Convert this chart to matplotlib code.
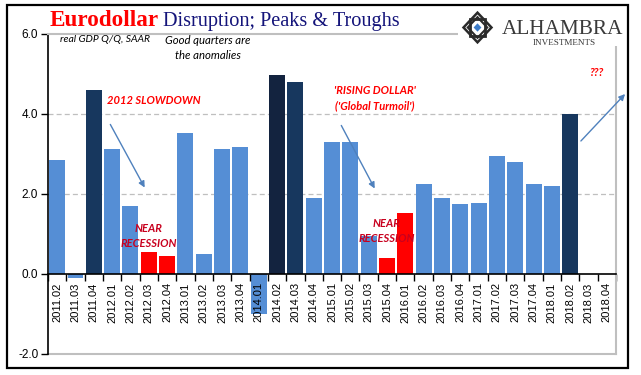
import numpy as np
import matplotlib
matplotlib.use('Agg')
import matplotlib.pyplot as plt
from matplotlib.patches import Rectangle, Polygon, FancyArrowPatch

# real GDP Q/Q SAAR
quarters = ['2011.02', '2011.03', '2011.04',
            '2012.01', '2012.02', '2012.03', '2012.04',
            '2013.01', '2013.02', '2013.03', '2013.04',
            '2014.01', '2014.02', '2014.03', '2014.04',
            '2015.01', '2015.02', '2015.03', '2015.04',
            '2016.01', '2016.02', '2016.03', '2016.04',
            '2017.01', '2017.02', '2017.03', '2017.04',
            '2018.01', '2018.02', '2018.03', '2018.04']
gdp = [2.86, -0.11, 4.60,
       3.13, 1.71, 0.54, 0.46,
       3.53, 0.49, 3.13, 3.18,
       -1.00, 4.97, 4.81, 1.89,
       3.29, 3.29, 0.95, 0.41,
       1.53, 2.26, 1.91, 1.76,
       1.78, 2.96, 2.79, 2.26,
       2.21, 3.99, np.nan, np.nan]
# L = normal quarter, D = good quarter, X = best, R = near recession
kind = ['L', 'L', 'D',
        'L', 'L', 'R', 'R',
        'L', 'L', 'L', 'L',
        'L', 'X', 'D', 'L',
        'L', 'L', 'L', 'R',
        'R', 'L', 'L', 'L',
        'L', 'L', 'L', 'L',
        'L', 'D', 'L', 'L']
colors = {'L': '#558ED5', 'D': '#17375E', 'X': '#13233F', 'R': '#FF0000'}

W, H = 641, 375


def fp(x, y):
    # pixel position (top-left origin) -> figure fraction
    return (x / W, 1 - y / H)


fig = plt.figure(figsize=(W / 100, H / 100), dpi=100)
ax = fig.add_axes([48 / W, 1 - 354 / H, 568 / W, 320 / H])

x = np.arange(len(quarters))
vals = np.array(gdp, dtype=float)
ok = ~np.isnan(vals)
ax.bar(x[ok], vals[ok], width=0.87, color=[colors[k] for k, o in zip(kind, ok) if o], zorder=1.2)

ax.set_xlim(-0.5, len(quarters) - 0.5)
ax.set_ylim(-2, 6)

for g in [2, 4]:
    ax.axhline(g, color='#BFBFBF', lw=0.9, ls=(0, (4, 2.5)), zorder=1)
ax.axhline(-2, color='#BFBFBF', lw=1.5, zorder=1, clip_on=False)

ax.spines['bottom'].set_position(('data', 0))
ax.spines['bottom'].set_color('black')
ax.spines['bottom'].set_linewidth(1.2)
ax.spines['bottom'].set_zorder(3)
ax.spines['left'].set_color('black')
ax.spines['left'].set_linewidth(1.2)
for s in ['top', 'right']:
    ax.spines[s].set_color('#BFBFBF')
    ax.spines[s].set_linewidth(1.5)

lab_font = ['Liberation Sans Narrow', 'Liberation Sans', 'DejaVu Sans']
ax.set_xticks(x)
ax.set_xticklabels(quarters, rotation=90, family=lab_font, fontsize=8)
ax.set_xticks(np.arange(-0.5, len(quarters), 1), minor=True)
ax.tick_params(axis='x', which='major', length=0, pad=6)
ax.tick_params(axis='x', which='minor', length=5, width=1, direction='out', color='black')

ax.set_yticks([-2, 0, 2, 4, 6])
ax.set_yticklabels(['%.1f' % v for v in [-2, 0, 2, 4, 6]], family=lab_font, fontsize=8.5)
ax.tick_params(axis='y', length=5, width=1, direction='out', pad=2)

# title
fig.text(*fp(50, 26), 'Eurodollar', color='#FF0000', fontsize=16.7, fontweight='bold',
         family='Liberation Serif', ha='left', va='baseline')
fig.text(*fp(163, 26), 'Disruption; Peaks & Troughs', color='#14147A', fontsize=14.6,
         family='Liberation Serif', ha='left', va='baseline')

# logo area
fig.add_artist(Rectangle(fp(458, 46), 169 / W, 40 / H, transform=fig.transFigure,
                         facecolor='white', edgecolor='none', zorder=1))
lg = fig.add_axes([461 / W, 1 - 45 / H, 33 / W, 35 / H])
lg.set_zorder(2)
lg.set_xlim(-1.05, 1.05)
lg.set_ylim(-1.05, 1.05)
lg.axis('off')
lg.add_patch(Polygon([(0, 1), (1, 0), (0, -1), (-1, 0)], closed=True, facecolor='#2A2A2A', edgecolor='none'))
lg.add_patch(Polygon([(0, 0.78), (0.78, 0), (0, -0.78), (-0.78, 0)], closed=True, facecolor='white', edgecolor='none'))
lg.add_patch(Rectangle((-0.5, -0.5), 1.0, 1.0, facecolor='none', edgecolor='#2A2A2A', lw=2))
lg.add_patch(Polygon([(0, 0.62), (0.62, 0), (0, -0.62), (-0.62, 0)], closed=True, facecolor='none', edgecolor='#2A2A2A', lw=1.5))
lg.add_patch(Polygon([(0, 0.25), (0.25, 0), (0, -0.25), (-0.25, 0)], closed=True, facecolor='#3D7CC9', edgecolor='none'))
fig.text(*fp(502, 34), 'ALHAMBRA', color='#3A3A3A', fontsize=15.3, family='Liberation Serif',
         ha='left', va='baseline')
fig.text(*fp(564, 45), 'INVESTMENTS', color='#3A3A3A', fontsize=6.6, family='Liberation Serif',
         ha='center', va='baseline')

# annotations
note_font = ['Lato', 'DejaVu Sans']
fig.text(*fp(105, 40), 'real GDP Q/Q, SAAR', fontsize=7.5, style='italic', family=note_font,
         ha='center', va='center')
fig.text(*fp(208, 48), 'Good quarters are\nthe anomalies', fontsize=8.2, style='italic',
         family=note_font, ha='center', va='center', linespacing=1.5)
fig.text(*fp(154, 100), '2012 SLOWDOWN', fontsize=8, style='italic', fontweight='bold',
         color='#FF0000', family=note_font, ha='center', va='center')
fig.text(*fp(149, 236), 'NEAR\nRECESSION', fontsize=8, style='italic', fontweight='bold',
         color='#C8001E', family=note_font, ha='center', va='center', linespacing=1.5)
fig.text(*fp(375, 98), "'RISING DOLLAR'\n('Global Turmoil')", fontsize=8, style='italic',
         fontweight='bold', color='#FF0000', family=note_font, ha='center', va='center',
         linespacing=1.5)
fig.text(*fp(387, 231), 'NEAR\nRECESSION', fontsize=8, style='italic', fontweight='bold',
         color='#C8001E', family=note_font, ha='center', va='center', linespacing=1.5)
fig.text(*fp(596, 73), '???', fontsize=8, style='italic', fontweight='bold',
         color='#FF0000', family=note_font, ha='center', va='center')

for a, b in [((109, 122), (146, 190)), ((340, 123), (376, 191)), ((579, 143), (627, 92))]:
    fig.add_artist(FancyArrowPatch(fp(*a), fp(*b), transform=fig.transFigure,
                                   arrowstyle='-|>', mutation_scale=9, color='#4F81BD',
                                   lw=1, zorder=4))

# outer frame
fig.add_artist(Rectangle(fp(7, 368), 621 / W, 363 / H, transform=fig.transFigure,
                         fill=False, edgecolor='black', lw=1.6, zorder=10))

fig.savefig('out.png', dpi=100)
